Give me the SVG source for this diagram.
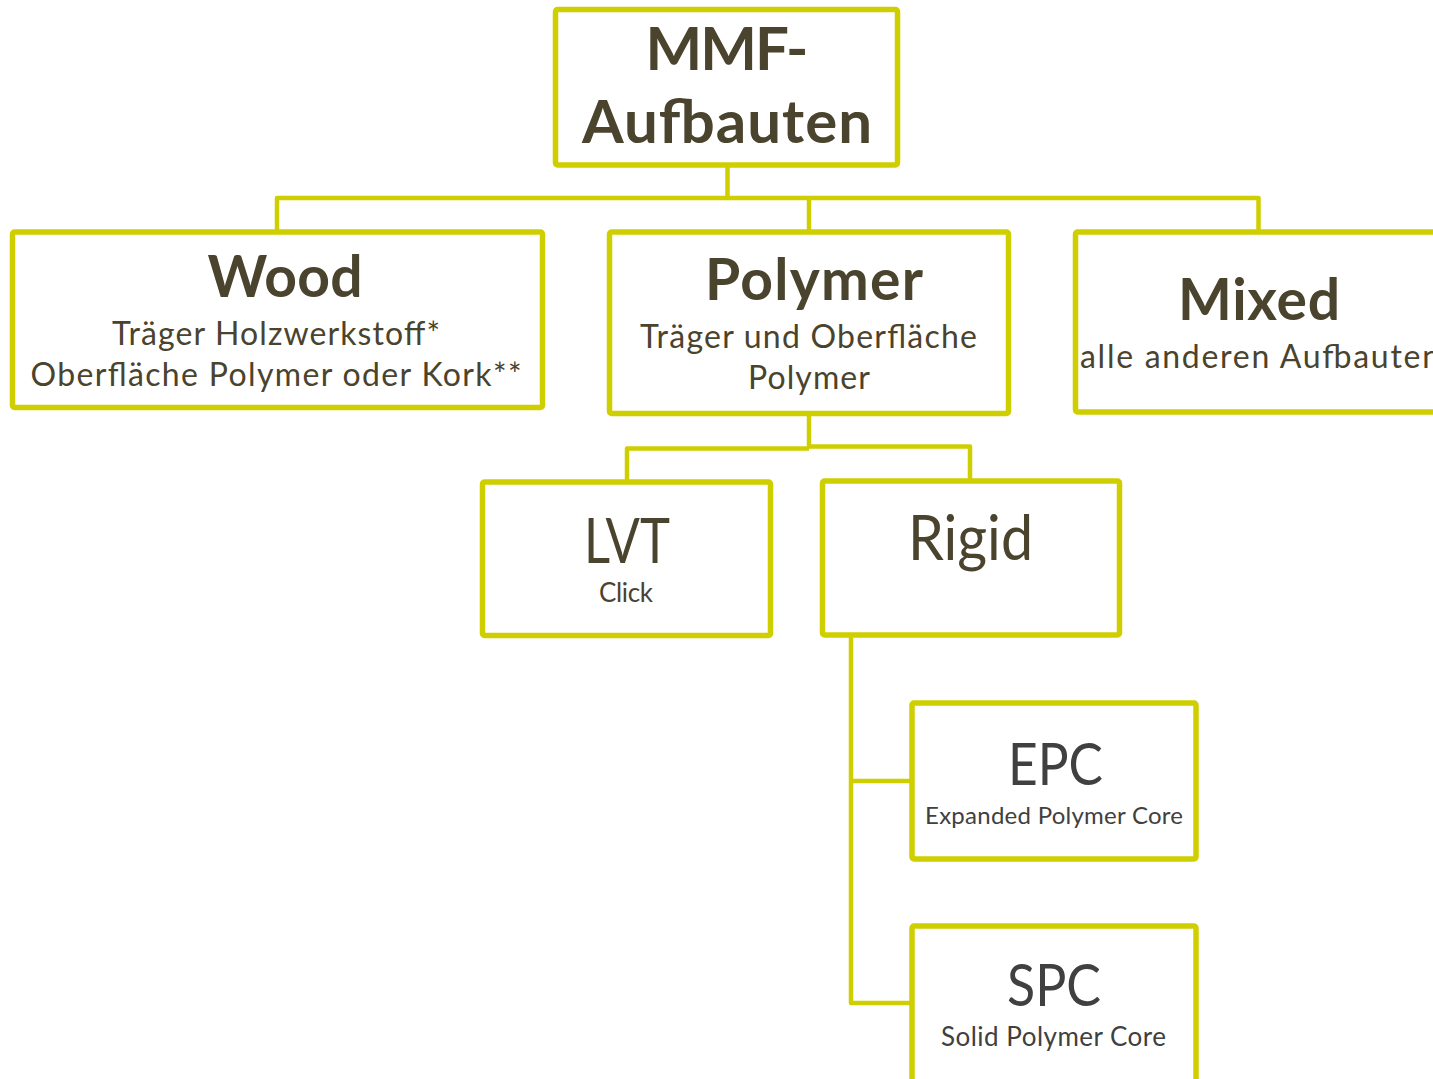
<svg xmlns="http://www.w3.org/2000/svg" width="1433" height="1079" viewBox="0 0 1433 1079">
<style>
.box{fill:#fff;stroke:#CFCF00;stroke-width:5.5}
.con{fill:none;stroke:#CFCF00;stroke-width:4.5;stroke-linejoin:round}
text{font-family:Lato,"Open Sans","Liberation Sans",sans-serif;text-anchor:middle;fill:#4A432D}
.b{font-weight:bold}
.g{fill:#404040}
</style>
<rect width="1433" height="1079" fill="#fff"/>
<g id="connectors">
<path class="con" d="M727.5 165 V198 M277 232 V198 H1258.5 V232 M809 198 V232"/>
<path class="con" d="M809 413.5 V447.5 M627 482 V448.5 H809 M809 446.5 H970 V481"/>
<path class="con" d="M851 635 V1003 H912 M851 781 H912"/>
</g>
<g id="mmf">
<rect class="box" x="555.5" y="9.5" width="342" height="155.5" rx="2"/>
<text class="b" x="727" y="70" font-size="60" textLength="163">MMF-</text>
<text class="b" x="727" y="143" font-size="60" textLength="290">Aufbauten</text>
</g>
<g id="wood">
<rect class="box" x="12.5" y="232" width="530" height="175.5" rx="2"/>
<text class="b" x="285" y="297" font-size="57" textLength="155">Wood</text>
<text x="276" y="345" font-size="32" textLength="328">Träger Holzwerkstoff*</text>
<text x="276" y="386" font-size="32" textLength="491">Oberfläche Polymer oder Kork**</text>
</g>
<g id="polymer">
<rect class="box" x="609.5" y="232" width="399" height="181.5" rx="2"/>
<text class="b" x="814" y="300" font-size="57" textLength="218">Polymer</text>
<text x="808.5" y="348" font-size="32" textLength="337">Träger und Oberfläche</text>
<text x="809" y="389" font-size="32" textLength="122">Polymer</text>
</g>
<g id="mixed">
<rect class="box" x="1075.5" y="232" width="400" height="180" rx="2"/>
<text class="b" x="1259" y="320" font-size="57" textLength="162">Mixed</text>
<text x="1260" y="368" font-size="32" textLength="360">alle anderen Aufbauten</text>
</g>
<g id="lvt">
<rect class="box" x="482.5" y="482" width="288" height="153.5" rx="2"/>
<text x="627" y="563" font-size="62" textLength="86" lengthAdjust="spacingAndGlyphs">LVT</text>
<text x="626" y="602" font-size="26" textLength="54">Click</text>
</g>
<g id="rigid">
<rect class="box" x="822.5" y="481" width="297" height="154" rx="2"/>
<text x="970.5" y="560" font-size="61" textLength="125" lengthAdjust="spacingAndGlyphs">Rigid</text>
</g>
<g id="epc">
<rect class="box" x="912" y="703" width="284" height="156" rx="2"/>
<text class="g" x="1055.5" y="785" font-size="59" textLength="95" lengthAdjust="spacingAndGlyphs">EPC</text>
<text class="g" x="1054" y="824" font-size="24" textLength="258">Expanded Polymer Core</text>
</g>
<g id="spc">
<rect class="box" x="912" y="926" width="284" height="200" rx="2"/>
<text class="g" x="1054" y="1006" font-size="59" textLength="94" lengthAdjust="spacingAndGlyphs">SPC</text>
<text class="g" x="1053.5" y="1046" font-size="26" textLength="225">Solid Polymer Core</text>
</g>
</svg>
